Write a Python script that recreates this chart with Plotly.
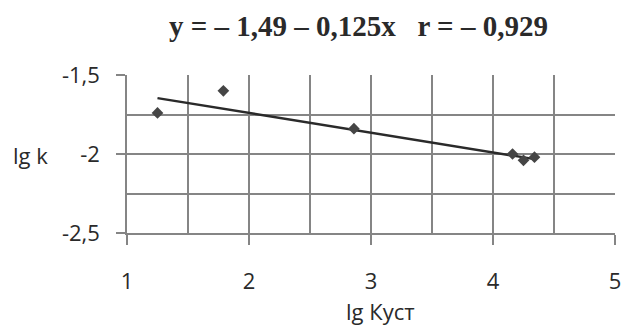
import plotly.graph_objects as go

# data
lg_kust = [1.25, 1.79, 2.86, 4.16, 4.25, 4.34]
lg_k = [-1.74, -1.60, -1.84, -2.00, -2.04, -2.02]

# regression from the title
intercept = -1.49
slope = -0.125
fit_x = [min(lg_kust), max(lg_kust)]
fit_y = [intercept + slope * v for v in fit_x]

x_tickvals = [1, 2, 3, 4, 5]
x_ticktext = ["1", "2", "3", "4", "5"]
y_tickvals = [-2.5, -2.0, -1.5]
y_ticktext = ["-2,5", "-2", "-1,5"]

title_text = "y = – 1,49 – 0,125x   r = – 0,929"
x_title = "lg Куст"
y_title = "lg k"

grid_col = "#858585"
text_col = "#2a2a2a"
label_font = dict(family="Open Sans", size=22, color=text_col)

fig = go.Figure()
fig.add_trace(go.Scatter(x=fit_x, y=fit_y, mode="lines",
                         line=dict(color="#2a2a2a", width=2.5), showlegend=False))
fig.add_trace(go.Scatter(x=lg_kust, y=lg_k, mode="markers",
                         marker=dict(symbol="diamond", size=9, color="#454545"),
                         showlegend=False))

fig.update_layout(
    width=633, height=328,
    margin=dict(l=127, r=18, t=75, b=95),
    paper_bgcolor="white", plot_bgcolor="white",
    xaxis=dict(range=[1, 5], tickvals=x_tickvals, ticktext=x_ticktext,
               showgrid=True, gridcolor=grid_col, gridwidth=1.5,
               minor=dict(dtick=0.5, showgrid=True, gridcolor=grid_col, gridwidth=1.5, ticks=""),
               showline=True, linecolor=grid_col, linewidth=1.5,
               ticks="outside", ticklen=10, tickwidth=1.5, tickcolor=grid_col,
               tickfont=label_font, ticklabelstandoff=18, zeroline=False),
    yaxis=dict(range=[-2.5, -1.5], tickvals=y_tickvals, ticktext=y_ticktext,
               showgrid=True, gridcolor=grid_col, gridwidth=1.5,
               minor=dict(dtick=0.25, showgrid=True, gridcolor=grid_col, gridwidth=1.5, ticks=""),
               showline=True, linecolor=grid_col, linewidth=1.5,
               ticks="outside", ticklen=9, tickwidth=1.5, tickcolor=grid_col,
               tickfont=label_font, ticklabelstandoff=12, zeroline=False),
    annotations=[
        dict(text="<b>" + title_text + "</b>", xref="paper", yref="paper",
             x=(358 - 127) / 488, y=1 + (75 - 26) / 158, xanchor="center", yanchor="middle",
             showarrow=False, font=dict(family="Liberation Serif", size=29, color=text_col)),
        dict(text=x_title, xref="paper", yref="paper",
             x=(380 - 127) / 488, y=-(311 - 233) / 158, xanchor="center", yanchor="middle",
             showarrow=False, font=label_font),
        dict(text=y_title, xref="paper", yref="paper",
             x=-(127 - 30) / 488, y=(233 - 155) / 158, xanchor="center", yanchor="middle",
             showarrow=False, font=label_font),
    ],
)

fig.write_html("out.html", config={"displayModeBar": False},
               post_script="document.body.style.margin='0';")
